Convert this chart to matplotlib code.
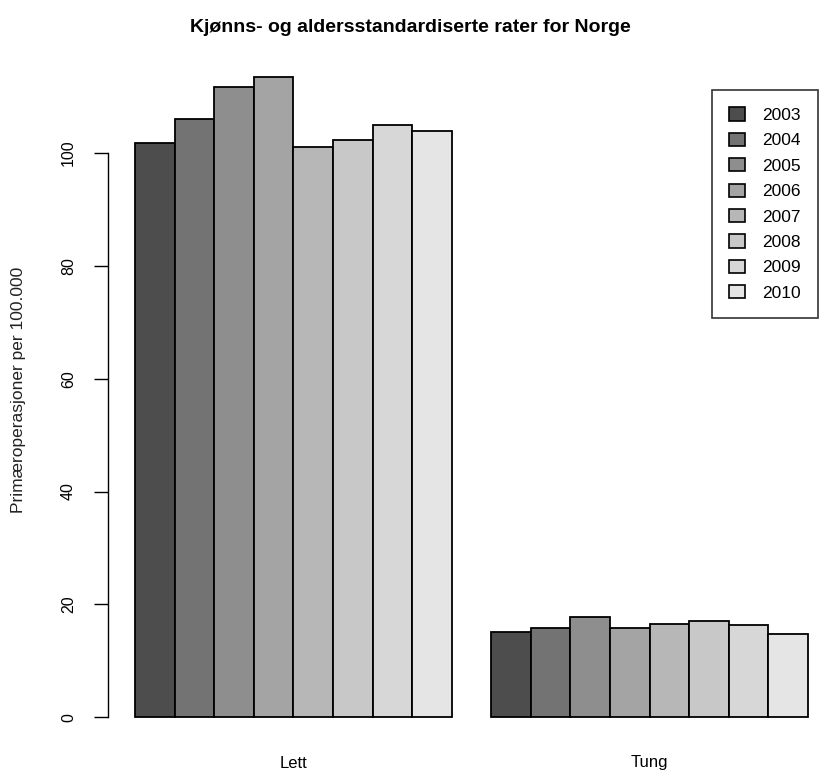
import matplotlib.pyplot as plt
from matplotlib.patches import Patch
from matplotlib.transforms import blended_transform_factory

plt.rcParams['font.family'] = ['Liberation Sans', 'DejaVu Sans']

# ------------------------------------
# Data
# ------------------------------------
groups = ["Lett", "Tung"]
years = ["2003", "2004", "2005", "2006", "2007", "2008", "2009", "2010"]
lett = [101.8, 106.0, 111.7, 113.5, 101.0, 102.2, 104.9, 103.9]
tung = [15.1, 15.8, 17.7, 15.8, 16.6, 17.0, 16.3, 14.8]
colors = ["#4d4d4d", "#737373", "#8e8e8e", "#a4a4a4",
          "#b7b7b7", "#c8c8c8", "#d7d7d7", "#e5e5e5"]

values = [lett, tung]

# ------------------------------------
# Figure
# ------------------------------------
fig = plt.figure(figsize=(8.19, 7.72), dpi=100)
ax = fig.add_axes([108/819, 1 - 743/772, (835 - 108)/819, (743 - 51)/772])

for g, vals in enumerate(values):
    for i, v in enumerate(vals):
        ax.bar(1 + g*9 + i, v, width=1, align="edge",
               color=colors[i], edgecolor="black", linewidth=1.3)

ax.set_xlim(0.32, 18.68)
ax.set_ylim(-4.54, 118.04)

for s in ["top", "right", "bottom"]:
    ax.spines[s].set_visible(False)
ax.spines["left"].set_bounds(0, 100)
ax.spines["left"].set_linewidth(1.0)
ax.set_xticks([])
ax.set_yticks([0, 20, 40, 60, 80, 100])
ax.tick_params(axis="y", length=10, width=1.0, pad=13, labelsize=11.5)
for lab in ax.get_yticklabels():
    lab.set_rotation(90)
    lab.set_va("center")

trans = blended_transform_factory(ax.transData, fig.transFigure)
for g, name in enumerate(groups):
    ax.text(1 + g*9 + 4, 1 - 763/772, name, transform=trans,
            ha="center", va="center", fontsize=12)

fig.text(19/819, 1 - 390/772, "Primæroperasjoner per 100.000",
         rotation=90, ha="center", va="center", fontsize=12.5, color="#222222")

fig.text(410/819, 1 - 27/772, "Kjønns- og aldersstandardiserte rater for Norge",
         ha="center", va="center", fontsize=14, fontweight="bold")

handles = [Patch(facecolor=c, edgecolor="black", linewidth=1.2) for c in colors]
leg = fig.legend(handles, years, loc="upper right",
                 bbox_to_anchor=(818/819, 1 - 90/772),
                 fontsize=12.5, frameon=True, fancybox=False,
                 edgecolor="black", handlelength=0.9, handleheight=0.8,
                 labelspacing=0.56, borderpad=1.0, handletextpad=1.0,
                 borderaxespad=0)
leg.get_frame().set_linewidth(1.2)

fig.savefig("out.png", dpi=100)
